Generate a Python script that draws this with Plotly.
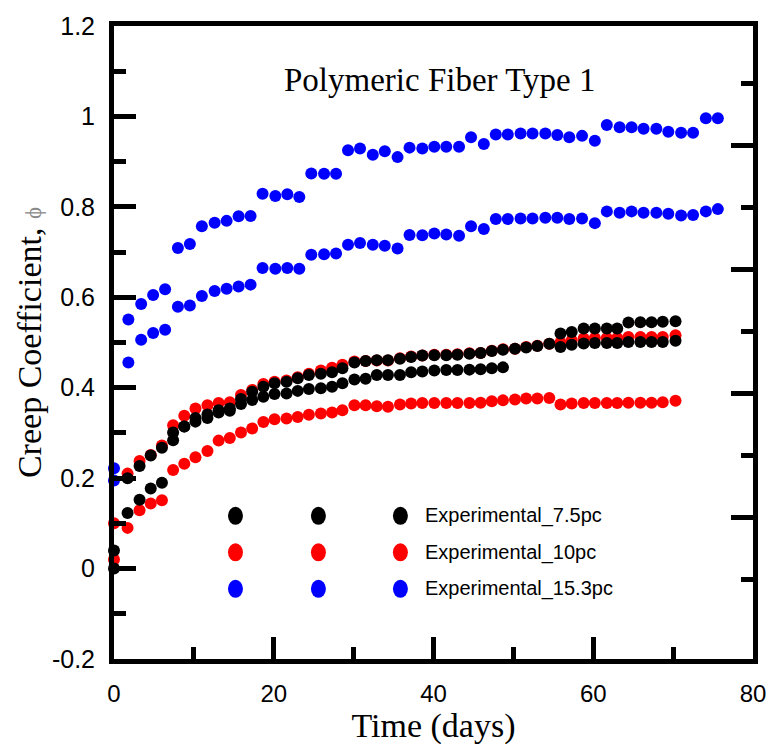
import plotly.graph_objects as go

# Sampling times (days) for the 7.5pc and 10pc specimens
days_rb = [0, 1.7, 3.2, 4.6, 6.0, 7.4, 8.8, 10.2, 11.7, 13.1, 14.5, 15.9, 17.3, 18.7, 20.1,
           21.6, 23.0, 24.4, 25.9, 27.3, 28.6, 30.1, 31.5, 32.9, 34.3, 35.8, 37.2, 38.6, 40.1,
           41.6, 43.0, 44.5, 45.9, 47.3, 48.7, 50.2, 51.6, 53.0, 54.5, 55.9, 57.3, 58.8, 60.2,
           61.7, 63.0, 64.4, 65.9, 67.3, 68.7, 70.3]

# Sampling times (days) for the 15.3pc specimens
days_b = [0, 1.8, 3.4, 4.9, 6.4, 8.0, 9.5, 11.0, 12.6, 14.1, 15.6, 17.1, 18.6, 20.2, 21.7,
          23.2, 24.7, 26.3, 27.8, 29.3, 30.8, 32.4, 33.9, 35.5, 37.0, 38.6, 40.1, 41.6, 43.2,
          44.7, 46.3, 47.8, 49.3, 50.9, 52.4, 54.0, 55.5, 57.0, 58.6, 60.2, 61.7, 63.3, 64.8,
          66.3, 67.9, 69.4, 71.0, 72.5, 74.1, 75.6]

phi_75_a = [0.04, 0.20, 0.227, 0.25, 0.267, 0.301, 0.314, 0.333, 0.341, 0.350, 0.354, 0.375,
            0.391, 0.402, 0.410, 0.413, 0.421, 0.428, 0.431, 0.434, 0.443, 0.456, 0.459, 0.461,
            0.461, 0.464, 0.468, 0.471, 0.472, 0.472, 0.473, 0.475, 0.477, 0.481, 0.484, 0.486,
            0.489, 0.492, 0.497, 0.490, 0.495, 0.498, 0.499, 0.499, 0.499, 0.501, 0.501, 0.501,
            0.501, 0.504]
phi_75_b = [0.0, 0.123, 0.152, 0.177, 0.19, 0.284, 0.314, 0.325, 0.333, 0.345, 0.349, 0.364,
            0.373, 0.380, 0.386, 0.387, 0.393, 0.397, 0.399, 0.402, 0.410, 0.418, 0.420, 0.428,
            0.428, 0.428, 0.434, 0.436, 0.438, 0.439, 0.439, 0.440, 0.441, 0.443, 0.445,
            None, None, None, None,
            0.520, 0.523, 0.531, 0.531, 0.531, 0.531, 0.544, 0.545, 0.545, 0.546, 0.547]

phi_10_a = [0.10, 0.21, 0.238, 0.251, 0.272, 0.317, 0.338, 0.354, 0.361, 0.366, 0.368, 0.384,
            0.395, 0.408, 0.413, 0.416, 0.423, 0.431, 0.438, 0.444, 0.451, 0.458, 0.459, 0.460,
            0.460, 0.465, 0.469, 0.471, 0.473, 0.473, 0.474, 0.476, 0.477, 0.482, 0.485, 0.486,
            0.490, 0.493, 0.497, 0.500, 0.505, 0.509, 0.510, 0.510, 0.510, 0.512, 0.512, 0.512,
            0.512, 0.516]
phi_10_b = [0.02, 0.09, 0.129, 0.144, 0.151, 0.218, 0.232, 0.246, 0.260, 0.283, 0.289, 0.301,
            0.310, 0.324, 0.330, 0.332, 0.335, 0.340, 0.343, 0.345, 0.350, 0.361, 0.361, 0.359,
            0.358, 0.363, 0.365, 0.366, 0.366, 0.366, 0.366, 0.366, 0.367, 0.370, 0.372, 0.374,
            0.376, 0.376, 0.377, 0.363, 0.365, 0.366, 0.366, 0.366, 0.366, 0.367, 0.367, 0.367,
            0.368, 0.371]

phi_153_a = [0.222, 0.551, 0.585, 0.605, 0.618, 0.709, 0.718, 0.757, 0.765, 0.769, 0.779, 0.780,
             0.829, 0.824, 0.828, 0.822, 0.874, 0.873, 0.873, 0.925, 0.929, 0.915, 0.923, 0.910,
             0.931, 0.929, 0.933, 0.933, 0.933, 0.954, 0.939, 0.960, 0.960, 0.962, 0.962, 0.962,
             0.959, 0.954, 0.957, 0.946, 0.981, 0.976, 0.976, 0.973, 0.973, 0.966, 0.964, 0.964,
             0.996, 0.996]
phi_153_b = [0.195, 0.456, 0.506, 0.521, 0.528, 0.579, 0.582, 0.603, 0.614, 0.619, 0.624, 0.628,
             0.665, 0.663, 0.665, 0.663, 0.694, 0.695, 0.697, 0.716, 0.720, 0.716, 0.714, 0.708,
             0.738, 0.737, 0.741, 0.739, 0.736, 0.757, 0.751, 0.773, 0.773, 0.774, 0.774, 0.776,
             0.776, 0.773, 0.774, 0.764, 0.790, 0.787, 0.790, 0.787, 0.787, 0.785, 0.781, 0.782,
             0.790, 0.795]

legend_labels = ["Experimental_7.5pc", "Experimental_10pc", "Experimental_15.3pc"]
legend_colors = ["#000000", "#ff0000", "#0000ff"]

fig = go.Figure()

series = [
    (days_rb, phi_10_a, "#ff0000"),
    (days_rb, phi_10_b, "#ff0000"),
    (days_rb, phi_75_a, "#000000"),
    (days_rb, phi_75_b, "#000000"),
    (days_b, phi_153_a, "#0000ff"),
    (days_b, phi_153_b, "#0000ff"),
]
for xs, ys, col in series:
    fig.add_trace(go.Scatter(x=xs, y=ys, mode="markers", showlegend=False,
                             marker=dict(size=12, color=col, line=dict(width=0)),
                             cliponaxis=False))

# empty trace so the secondary (tick-only) right axis is drawn
fig.add_trace(go.Scatter(x=[], y=[], yaxis="y2", showlegend=False, hoverinfo="skip"))

# Legend block: three dot columns plus a label per row
dot_cols = [0.1901, 0.3199, 0.4482]
row_y = [0.2262, 0.1685, 0.1108]
shapes = []
annotations = []
for lab, col, yy in zip(legend_labels, legend_colors, row_y):
    for xx in dot_cols:
        shapes.append(dict(type="circle", xref="paper", yref="paper",
                           xsizemode="pixel", ysizemode="pixel",
                           xanchor=xx, yanchor=yy, x0=-7.5, x1=7.5, y0=-9, y1=9,
                           fillcolor=col, line=dict(width=0)))
    annotations.append(dict(text=lab, xref="paper", yref="paper", x=0.4838, y=yy,
                            xanchor="left", yanchor="middle", showarrow=False,
                            font=dict(family="Liberation Sans, Arial", size=20, color="#000")))

annotations.append(dict(text="Polymeric Fiber Type 1", xref="paper", yref="paper",
                        x=0.510, y=0.9142, xanchor="center", yanchor="middle", showarrow=False,
                        font=dict(family="Liberation Serif, Times New Roman", size=33, color="#000")))

fig.update_layout(
    width=778, height=749,
    margin=dict(l=114, r=17, t=26, b=82),
    paper_bgcolor="white", plot_bgcolor="white",
    shapes=shapes, annotations=annotations,
    xaxis=dict(
        range=[0, 80], tickvals=[0, 20, 40, 60, 80],
        ticks="inside", ticklen=22, tickwidth=5, tickcolor="black",
        minor=dict(tickvals=[10, 30, 50, 70], ticks="inside", ticklen=12, tickwidth=5, tickcolor="black"),
        showline=True, linecolor="black", linewidth=5, mirror=True,
        showgrid=False, zeroline=False,
        tickfont=dict(family="Liberation Sans, Arial", size=24, color="black"),
        ticklabelstandoff=9,
        title=dict(text="Time (days)", standoff=6,
                   font=dict(family="Liberation Serif, Times New Roman", size=34, color="black")),
    ),
    yaxis=dict(
        range=[-0.2, 1.2], tickvals=[-0.2, 0, 0.2, 0.4, 0.6, 0.8, 1.0, 1.2],
        ticktext=["-0.2", "0", "0.2", "0.4", "0.6", "0.8", "1", "1.2"],
        ticks="inside", ticklen=22, tickwidth=5, tickcolor="black",
        minor=dict(tickvals=[-0.1, 0.1, 0.3, 0.5, 0.7, 0.9, 1.1], ticks="inside",
                   ticklen=12, tickwidth=5, tickcolor="black"),
        showline=True, linecolor="black", linewidth=5, mirror=True,
        showgrid=False, zeroline=False,
        tickfont=dict(family="Liberation Sans, Arial", size=25, color="black"),
        ticklabelstandoff=9,
        title=dict(text="Creep Coefficient, <span style='font-size:23px;color:#888888'>ϕ</span>",
                   standoff=2,
                   font=dict(family="Liberation Serif, Times New Roman", size=34, color="black")),
    ),
    yaxis2=dict(
        overlaying="y", side="right", range=[-0.029, 0.992],
        tickvals=[0.2, 0.4, 0.6, 0.8], ticks="inside", ticklen=22, tickwidth=5, tickcolor="black",
        minor=dict(tickvals=[0.1, 0.3, 0.5, 0.7, 0.9], ticks="inside", ticklen=12,
                   tickwidth=5, tickcolor="black"),
        showticklabels=False, showline=False, showgrid=False, zeroline=False,
    ),
)

fig.write_html("out.html")
